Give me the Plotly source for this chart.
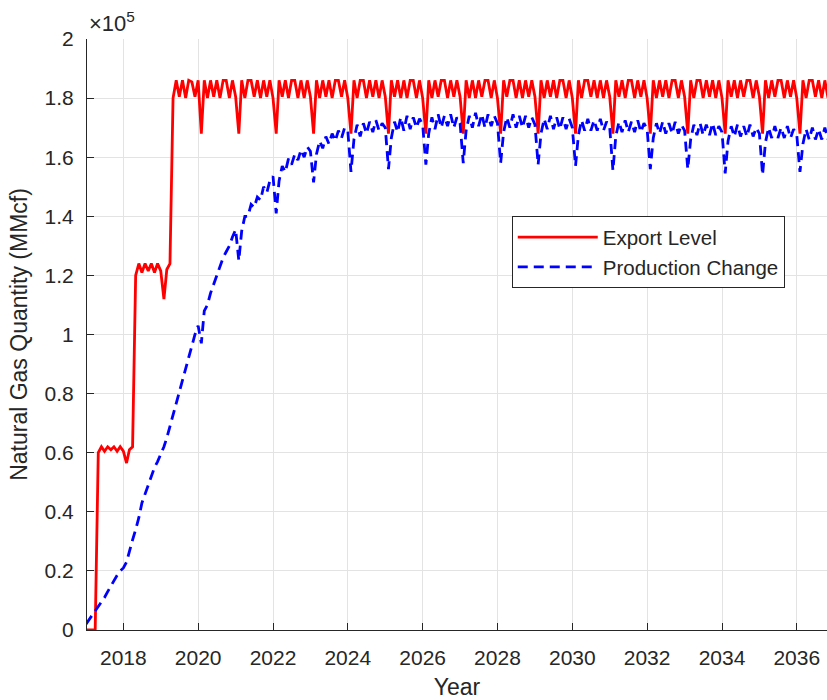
import pandas as pd
import plotly.graph_objects as go

# Monthly series, January 2017 through December 2036, in units of 1e5 MMcf
months = pd.date_range(start="2017-01-01", periods=240, freq="MS")
SCALE = 1e5

export_level = [
    # 2017
    0.000, 0.000, 0.000, 0.000, 0.600, 0.620, 0.605, 0.620, 0.610, 0.620, 0.605, 0.620,
    # 2018
    0.605, 0.565, 0.610, 0.620, 1.200, 1.240, 1.210, 1.240, 1.215, 1.240, 1.210, 1.240,
    # 2019
    1.215, 1.120, 1.220, 1.240, 1.800, 1.860, 1.805, 1.860, 1.800, 1.860, 1.855, 1.805,
    # 2020
    1.860, 1.680, 1.860, 1.800, 1.860, 1.805, 1.860, 1.800, 1.860, 1.860, 1.800, 1.860,
    # 2021
    1.805, 1.680, 1.860, 1.800, 1.860, 1.860, 1.805, 1.860, 1.800, 1.860, 1.805, 1.860,
    # 2022
    1.800, 1.680, 1.860, 1.805, 1.860, 1.800, 1.860, 1.860, 1.800, 1.860, 1.800, 1.860,
    # 2023
    1.805, 1.680, 1.860, 1.800, 1.860, 1.805, 1.860, 1.800, 1.860, 1.860, 1.805, 1.860,
    # 2024
    1.800, 1.680, 1.860, 1.800, 1.860, 1.860, 1.800, 1.860, 1.805, 1.860, 1.800, 1.860,
    # 2025
    1.805, 1.680, 1.860, 1.805, 1.860, 1.800, 1.860, 1.800, 1.860, 1.860, 1.800, 1.860,
    # 2026
    1.800, 1.680, 1.860, 1.800, 1.860, 1.805, 1.860, 1.860, 1.800, 1.860, 1.805, 1.860,
    # 2027
    1.805, 1.680, 1.860, 1.800, 1.860, 1.800, 1.860, 1.805, 1.860, 1.860, 1.800, 1.860,
    # 2028
    1.800, 1.680, 1.860, 1.805, 1.860, 1.860, 1.800, 1.860, 1.800, 1.860, 1.805, 1.860,
    # 2029
    1.805, 1.680, 1.860, 1.800, 1.860, 1.805, 1.860, 1.800, 1.860, 1.860, 1.800, 1.860,
    # 2030
    1.800, 1.680, 1.860, 1.800, 1.860, 1.860, 1.805, 1.860, 1.800, 1.860, 1.800, 1.860,
    # 2031
    1.805, 1.680, 1.860, 1.805, 1.860, 1.800, 1.860, 1.860, 1.800, 1.860, 1.805, 1.860,
    # 2032
    1.800, 1.680, 1.860, 1.800, 1.860, 1.805, 1.860, 1.800, 1.860, 1.860, 1.800, 1.860,
    # 2033
    1.805, 1.680, 1.860, 1.800, 1.860, 1.860, 1.800, 1.860, 1.805, 1.860, 1.800, 1.860,
    # 2034
    1.800, 1.680, 1.860, 1.805, 1.860, 1.800, 1.860, 1.805, 1.860, 1.860, 1.800, 1.860,
    # 2035
    1.805, 1.680, 1.860, 1.800, 1.860, 1.805, 1.860, 1.860, 1.800, 1.860, 1.805, 1.860,
    # 2036
    1.800, 1.680, 1.860, 1.800, 1.860, 1.860, 1.805, 1.860, 1.800, 1.860, 1.800, 1.860,
]

production_change = [
    # 2017
    0.020, 0.035, 0.050, 0.065, 0.080, 0.095, 0.110, 0.130, 0.150, 0.170, 0.185, 0.200,
    # 2018
    0.210, 0.230, 0.270, 0.305, 0.340, 0.380, 0.430, 0.460, 0.490, 0.520, 0.550, 0.570,
    # 2019
    0.595, 0.620, 0.650, 0.690, 0.730, 0.770, 0.805, 0.840, 0.880, 0.920, 0.960, 1.000,
    # 2020
    1.030, 0.970, 1.080, 1.100, 1.140, 1.170, 1.200, 1.230, 1.260, 1.280, 1.300, 1.330,
    # 2021
    1.355, 1.250, 1.350, 1.400, 1.400, 1.440, 1.430, 1.465, 1.455, 1.500, 1.480, 1.520,
    # 2022
    1.535, 1.410, 1.520, 1.570, 1.550, 1.595, 1.575, 1.610, 1.590, 1.625, 1.600, 1.635,
    # 2023
    1.620, 1.515, 1.610, 1.655, 1.630, 1.670, 1.645, 1.680, 1.655, 1.690, 1.665, 1.700,
    # 2024
    1.690, 1.550, 1.660, 1.710, 1.670, 1.715, 1.680, 1.720, 1.685, 1.725, 1.690, 1.715,
    # 2025
    1.700, 1.560, 1.665, 1.720, 1.685, 1.735, 1.690, 1.740, 1.695, 1.735, 1.700, 1.730,
    # 2026
    1.710, 1.575, 1.680, 1.735, 1.695, 1.745, 1.700, 1.740, 1.705, 1.745, 1.700, 1.735,
    # 2027
    1.715, 1.580, 1.690, 1.740, 1.700, 1.750, 1.705, 1.745, 1.700, 1.745, 1.705, 1.740,
    # 2028
    1.715, 1.580, 1.685, 1.735, 1.700, 1.745, 1.700, 1.740, 1.700, 1.740, 1.700, 1.735,
    # 2029
    1.710, 1.575, 1.680, 1.730, 1.695, 1.740, 1.695, 1.735, 1.695, 1.735, 1.695, 1.730,
    # 2030
    1.700, 1.570, 1.675, 1.725, 1.690, 1.730, 1.690, 1.725, 1.690, 1.730, 1.690, 1.720,
    # 2031
    1.700, 1.555, 1.670, 1.720, 1.685, 1.725, 1.685, 1.720, 1.685, 1.725, 1.685, 1.715,
    # 2032
    1.695, 1.560, 1.665, 1.715, 1.680, 1.720, 1.680, 1.715, 1.680, 1.720, 1.680, 1.710,
    # 2033
    1.690, 1.560, 1.660, 1.710, 1.675, 1.715, 1.675, 1.710, 1.675, 1.715, 1.675, 1.705,
    # 2034
    1.685, 1.545, 1.655, 1.705, 1.670, 1.710, 1.670, 1.705, 1.670, 1.710, 1.670, 1.700,
    # 2035
    1.680, 1.540, 1.650, 1.700, 1.665, 1.705, 1.665, 1.700, 1.665, 1.705, 1.665, 1.695,
    # 2036
    1.675, 1.550, 1.645, 1.695, 1.660, 1.700, 1.660, 1.695, 1.660, 1.700, 1.660, 1.690,
]

y_ticks = [0, 0.2, 0.4, 0.6, 0.8, 1.0, 1.2, 1.4, 1.6, 1.8, 2.0]
y_tick_labels = ["0", "0.2", "0.4", "0.6", "0.8", "1", "1.2", "1.4", "1.6", "1.8", "2"]

FONT = "Liberation Sans, Arial, Helvetica, sans-serif"
INK = "#262626"
GRID = "#e3e3e3"

fig = go.Figure()
fig.add_trace(go.Scatter(
    x=months, y=[v * SCALE for v in export_level],
    mode="lines", name="Export Level",
    line=dict(color="#ff0000", width=2.8),
))
fig.add_trace(go.Scatter(
    x=months, y=[v * SCALE for v in production_change],
    mode="lines", name="Production Change",
    line=dict(color="#0000ff", width=2.8, dash="10px,6px"),
))

fig.update_layout(
    width=827, height=700,
    margin=dict(l=87, r=0, t=39, b=70),
    paper_bgcolor="white", plot_bgcolor="white",
    font=dict(family=FONT, size=21, color=INK),
    showlegend=True,
    legend=dict(
        x=0.574, y=0.70, xanchor="left", yanchor="top",
        bgcolor="white", bordercolor=INK, borderwidth=1,
        font=dict(family=FONT, size=20.5, color=INK),
        itemwidth=80, tracegroupgap=0,
    ),
    xaxis=dict(
        type="date",
        range=["2017-01-11", "2036-10-22"],
        tick0="2018-01-01", dtick="M24", tickformat="%Y",
        ticks="inside", ticklen=7, tickcolor=INK, tickwidth=1,
        showline=True, linecolor=INK, linewidth=1, mirror=False,
        showgrid=True, gridcolor=GRID, gridwidth=1,
        zeroline=False,
        ticklabelstandoff=9,
        title=dict(text="Year", font=dict(size=23), standoff=10),
    ),
    yaxis=dict(
        range=[0, 2 * SCALE],
        tickvals=[t * SCALE for t in y_ticks], ticktext=y_tick_labels,
        ticks="inside", ticklen=7, tickcolor=INK, tickwidth=1,
        showline=True, linecolor=INK, linewidth=1, mirror=False,
        showgrid=True, gridcolor=GRID, gridwidth=1,
        zeroline=False,
        ticklabelstandoff=8,
        title=dict(text="Natural Gas Quantity (MMcf)", font=dict(size=23), standoff=10),
    ),
    annotations=[dict(
        text="\u00d710<sup>5</sup>", xref="paper", yref="paper",
        x=0.0, y=1.0, xanchor="left", yanchor="bottom", yshift=1,
        showarrow=False, font=dict(family=FONT, size=22, color=INK),
    )],
)

fig.write_html("out.html")
